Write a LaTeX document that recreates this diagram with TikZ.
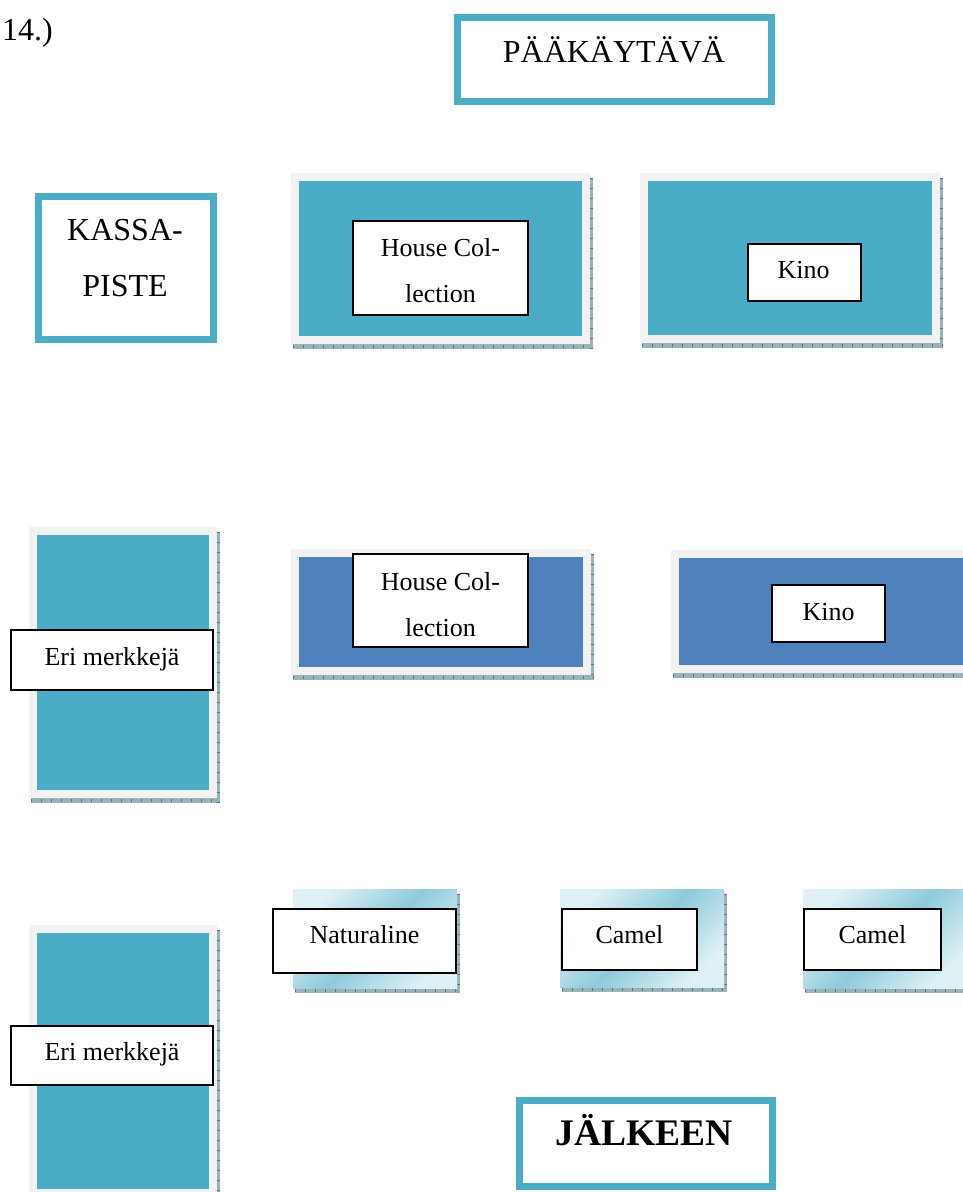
\documentclass[tikz,border=0pt]{standalone}
\usepackage{fontspec}
\setmainfont{Liberation Serif}
\definecolor{tealfill}{HTML}{4BACC6}
\definecolor{bluefill}{HTML}{4F81BD}
\definecolor{framegray}{HTML}{F2F2F2}
\definecolor{shadowc}{HTML}{9AB3B9}
\definecolor{tickc}{HTML}{557780}
\definecolor{gradlight}{HTML}{E0F1F6}
\definecolor{graddark}{HTML}{8ECADA}
\newcommand\myshadow[4]{%
  \fill[shadowc] (#1+2,#2+5) rectangle (#3+3,#4+5);
  \draw[tickc, line width=3, dash pattern=on 0.8pt off 9.2pt] (#3+1.5,#2+5) -- (#3+1.5,#4+5);
  \draw[tickc, line width=3, dash pattern=on 0.8pt off 9.2pt] (#1+2,#4+2.5) -- (#3+3,#4+2.5);
}
\newcommand\mypanel[5]{%
  \myshadow{#1}{#2}{#3}{#4}
  \fill[framegray] (#1,#2) rectangle (#3,#4);
  \fill[#5] (#1+8,#2+8) rectangle (#3-8,#4-8);
}
\newcommand\mygradpanel[4]{%
  \myshadow{#1}{#2}{#3}{#4}
  \fill[left color=gradlight, right color=gradlight, middle color=graddark, shading angle=45] (#1,#2) rectangle (#3,#4);
}
\begin{document}
\begin{tikzpicture}[x=1pt,y=-1pt,
  titlebox/.style={draw=tealfill, line width=7pt, fill=white, inner sep=0pt},
  whitebox/.style={draw=black, line width=1.8pt, fill=white, inner sep=0pt},
  txt/.style={inner sep=0pt, anchor=base, font=\fontsize{26}{30}\selectfont},
  bigtxt/.style={inner sep=0pt, anchor=base, font=\fontsize{32}{36}\selectfont}]
\useasboundingbox (0,0) rectangle (963,1192);
\clip (0,0) rectangle (963,1192);

% 14.)
\node[bigtxt, anchor=base west] (num) at (2,40) {14.)};

% title boxes
\node[titlebox, minimum width=314pt, minimum height=84pt] (paa) at (614.5,59.5) {};
\node[bigtxt] (paatxt) at (614,62) {PÄÄKÄYTÄVÄ};

\node[titlebox, minimum width=175pt, minimum height=143pt] (kassa) at (126,268) {};
\node[bigtxt] (kassa1) at (125,240) {KASSA-};
\node[bigtxt] (kassa2) at (125,296) {PISTE};

\node[titlebox, minimum width=253pt, minimum height=86pt] (jalk) at (646,1143.5) {};
\node[inner sep=0pt, anchor=base, font=\fontsize{37.5}{42}\selectfont\bfseries] (jalktxt) at (644,1145) {JÄLKEEN};

% panels
\mypanel{291}{173}{590}{344}{tealfill}
\mypanel{640}{173}{940}{343}{tealfill}
\mypanel{29}{527}{217}{798}{tealfill}
\mypanel{291}{549}{591}{675}{bluefill}
\mypanel{671}{550}{980}{673}{bluefill}
\mypanel{29}{925}{217}{1197}{tealfill}
\mygradpanel{293}{889}{457}{988}
\mygradpanel{560}{889}{724}{987}
\mygradpanel{803}{889}{970}{988}

% white label boxes
\node[whitebox, minimum width=175pt, minimum height=94pt] (hc1) at (440.5,268) {};
\node[txt] (hc1a) at (440.5,256) {House Col-};
\node[txt] (hc1b) at (440.5,302) {lection};

\node[whitebox, minimum width=113pt, minimum height=57pt] (kino1) at (804.5,272.5) {};
\node[txt] (kino1t) at (803.5,278) {Kino};

\node[whitebox, minimum width=175pt, minimum height=93pt] (hc2) at (440.5,600.5) {};
\node[txt] (hc2a) at (440.5,590) {House Col-};
\node[txt] (hc2b) at (440.5,636) {lection};

\node[whitebox, minimum width=113pt, minimum height=57pt] (kino2) at (828.5,613.5) {};
\node[txt] (kino2t) at (828.5,620) {Kino};

\node[whitebox, minimum width=202pt, minimum height=60pt] (eri1) at (112,660) {};
\node[txt] (eri1t) at (112,665) {Eri merkkejä};

\node[whitebox, minimum width=202pt, minimum height=59pt] (eri2) at (112,1055.5) {};
\node[txt] (eri2t) at (112,1060) {Eri merkkejä};

\node[whitebox, minimum width=183pt, minimum height=64pt] (nat) at (364.5,941) {};
\node[txt] (natt) at (364.5,943) {Naturaline};

\node[whitebox, minimum width=135pt, minimum height=61pt] (camel1) at (629.5,939.5) {};
\node[txt] (camel1t) at (629.5,943) {Camel};

\node[whitebox, minimum width=137pt, minimum height=61pt] (camel2) at (872.5,939.5) {};
\node[txt] (camel2t) at (872.5,943) {Camel};
\end{tikzpicture}
\end{document}
